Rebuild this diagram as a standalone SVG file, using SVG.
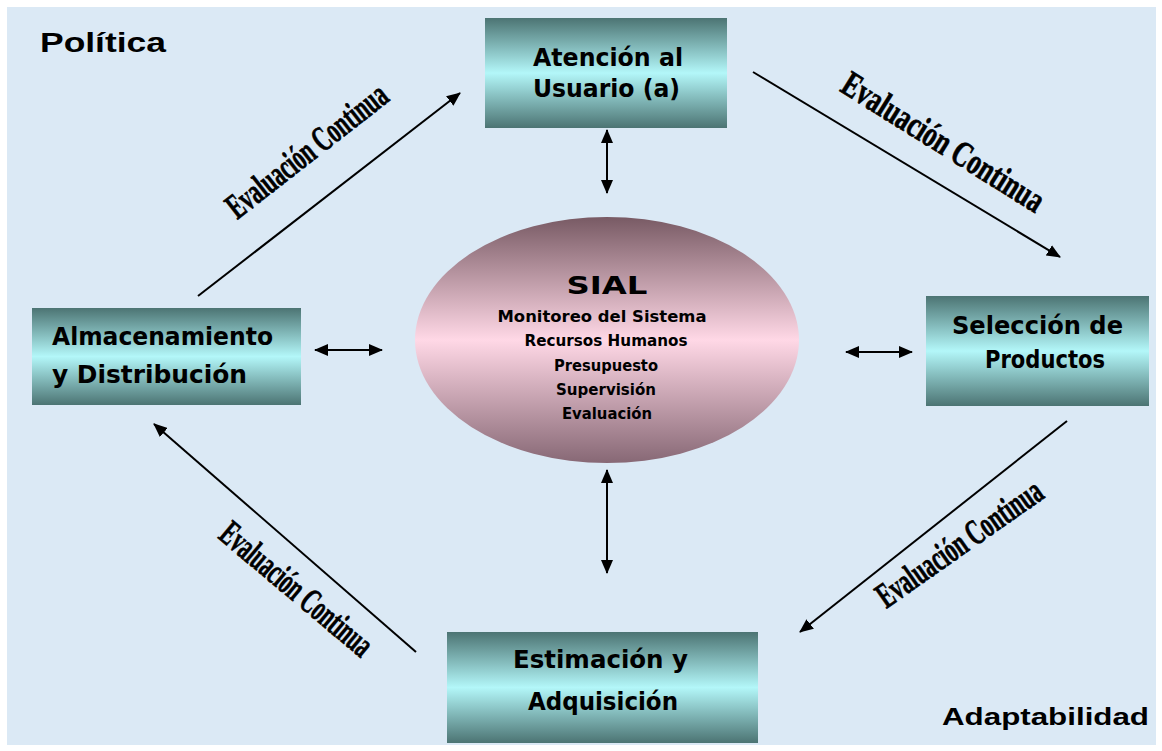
<svg xmlns="http://www.w3.org/2000/svg" width="1162" height="751" viewBox="0 0 1162 751">
<defs>
<style>
.box{stroke:none}
.bt{font-family:"DejaVu Sans",sans-serif;font-weight:bold;font-size:24px;fill:#000}
.st{font-family:"DejaVu Sans",sans-serif;font-weight:bold;font-size:15px;fill:#000;text-anchor:middle}
.sial{font-family:"DejaVu Sans",sans-serif;font-weight:bold;font-size:25px;fill:#000;text-anchor:middle}
.ev{font-family:"Liberation Serif","Times New Roman",serif;font-weight:bold;font-size:36px;fill:#000;stroke:#000;stroke-width:0.7;text-anchor:middle}
.corner{font-family:"Liberation Sans",Arial,sans-serif;font-weight:bold;fill:#000}
.ln{stroke:#000;stroke-width:2;fill:none}
</style>
<linearGradient id="gBox" x1="0" y1="0" x2="0" y2="1">
<stop offset="0" stop-color="#4c7473"/>
<stop offset="0.5" stop-color="#b3f7f9"/>
<stop offset="1" stop-color="#4c7473"/>
</linearGradient>
<linearGradient id="gEll" x1="0" y1="0" x2="0" y2="1">
<stop offset="0" stop-color="#785a64"/>
<stop offset="0.5" stop-color="#ffd8e6"/>
<stop offset="1" stop-color="#876875"/>
</linearGradient>
<marker id="ah" markerUnits="userSpaceOnUse" markerWidth="14" markerHeight="12" refX="13" refY="6" orient="auto-start-reverse" viewBox="0 0 14 12">
<path d="M0,0 L14,6 L0,12 z" fill="#000"/>
</marker>
</defs>
<rect x="0" y="0" width="1162" height="751" fill="#ffffff"/>
<rect x="7" y="7" width="1149" height="738" fill="#dbe9f5"/>

<g id="connectors">
<line class="ln" x1="198" y1="296" x2="460" y2="93" marker-end="url(#ah)"/>
<line class="ln" x1="753" y1="72" x2="1060" y2="257" marker-end="url(#ah)"/>
<line class="ln" x1="1067" y1="421" x2="800" y2="632" marker-end="url(#ah)"/>
<line class="ln" x1="416" y1="652" x2="154" y2="424" marker-end="url(#ah)"/>
<line class="ln" x1="607" y1="130" x2="607" y2="193" marker-start="url(#ah)" marker-end="url(#ah)"/>
<line class="ln" x1="607" y1="470" x2="607" y2="573" marker-start="url(#ah)" marker-end="url(#ah)"/>
<line class="ln" x1="315" y1="350" x2="382" y2="350" marker-start="url(#ah)" marker-end="url(#ah)"/>
<line class="ln" x1="846" y1="352" x2="912" y2="352" marker-start="url(#ah)" marker-end="url(#ah)"/>
<text class="ev" transform="translate(314,160) rotate(-38)" textLength="195" lengthAdjust="spacingAndGlyphs">Evaluación Continua</text>
<text class="ev" transform="translate(937,152) rotate(32)" textLength="232" lengthAdjust="spacingAndGlyphs">Evaluación Continua</text>
<text class="ev" transform="translate(966,553) rotate(-35)" textLength="195" lengthAdjust="spacingAndGlyphs">Evaluación Continua</text>
<text class="ev" transform="translate(289,598) rotate(40)" textLength="188" lengthAdjust="spacingAndGlyphs">Evaluación Continua</text>
</g>

<g id="politica">
<text class="corner" x="40" y="52" font-size="27" textLength="126" lengthAdjust="spacingAndGlyphs">Política</text>
</g>
<g id="adaptabilidad">
<text class="corner" x="942" y="725" font-size="24" textLength="207" lengthAdjust="spacingAndGlyphs">Adaptabilidad</text>
</g>

<g id="atencion">
<rect class="box" x="485" y="18" width="242" height="110" fill="url(#gBox)"/>
<text class="bt" x="533" y="66" textLength="150" lengthAdjust="spacingAndGlyphs">Atención al</text>
<text class="bt" x="533" y="97" textLength="147" lengthAdjust="spacingAndGlyphs">Usuario (a)</text>
</g>

<g id="almacenamiento">
<rect class="box" x="32" y="308" width="269" height="97" fill="url(#gBox)"/>
<text class="bt" x="52" y="345" textLength="221" lengthAdjust="spacingAndGlyphs">Almacenamiento</text>
<text class="bt" x="52" y="383" textLength="195" lengthAdjust="spacingAndGlyphs">y Distribución</text>
</g>

<g id="seleccion">
<rect class="box" x="926" y="296" width="223" height="110" fill="url(#gBox)"/>
<text class="bt" x="952" y="334" textLength="171" lengthAdjust="spacingAndGlyphs">Selección de</text>
<text class="bt" x="985" y="368" textLength="120" lengthAdjust="spacingAndGlyphs">Productos</text>
</g>

<g id="estimacion">
<rect class="box" x="447" y="632" width="311" height="111" fill="url(#gBox)"/>
<text class="bt" x="513" y="668" textLength="175" lengthAdjust="spacingAndGlyphs">Estimación y</text>
<text class="bt" x="528" y="710" textLength="150" lengthAdjust="spacingAndGlyphs">Adquisición</text>
</g>

<g id="sial">
<ellipse cx="607" cy="340" rx="192" ry="123" fill="url(#gEll)"/>
<text class="sial" x="607" y="294" textLength="81" lengthAdjust="spacingAndGlyphs">SIAL</text>
<text class="st" x="602" y="322" textLength="209" lengthAdjust="spacingAndGlyphs">Monitoreo del Sistema</text>
<text class="st" x="606" y="346" textLength="163" lengthAdjust="spacingAndGlyphs">Recursos Humanos</text>
<text class="st" x="606" y="371" textLength="104" lengthAdjust="spacingAndGlyphs">Presupuesto</text>
<text class="st" x="606" y="395" textLength="100" lengthAdjust="spacingAndGlyphs">Supervisión</text>
<text class="st" x="607" y="419" textLength="90" lengthAdjust="spacingAndGlyphs">Evaluación</text>
</g>
</svg>
